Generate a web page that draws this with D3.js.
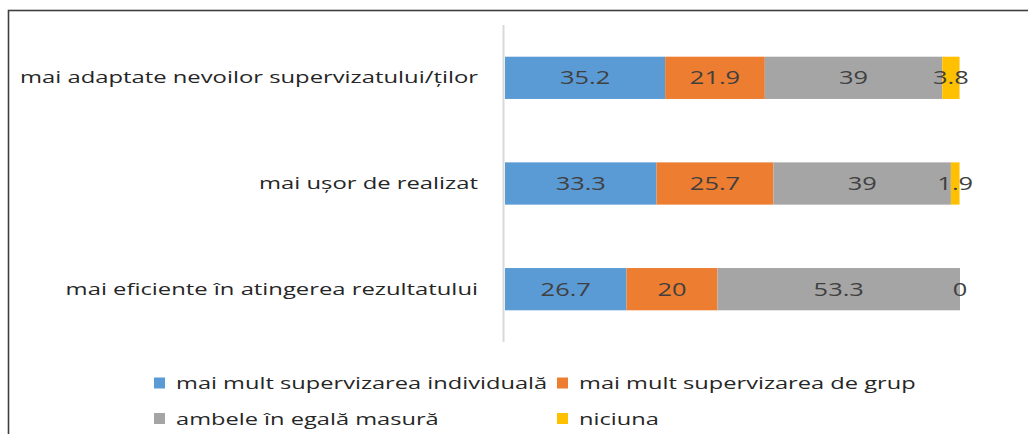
<!DOCTYPE html>
<html>
<head>
<meta charset="utf-8">
<script src="https://cdn.jsdelivr.net/npm/d3@7"></script>
<style>
  body { margin: 0; background: #fff; }
  text { font-family: "Open Sans", sans-serif; }
</style>
</head>
<body>
<script>
// categories (top to bottom)
const categories = [
  'mai adaptate nevoilor supervizatului/ților',
  'mai ușor de realizat',
  'mai eficiente în atingerea rezultatului'
]
const seriesNames = [
  'mai mult supervizarea individuală',
  'mai mult supervizarea de grup',
  'ambele în egală masură',
  'niciuna'
]
const individuala = [35.2, 33.3, 26.7]
const grup = [21.9, 25.7, 20]
const ambele = [39, 39, 53.3]
const niciuna = [3.8, 1.9, 0]
const colors = ['#5B9BD5', '#ED7D31', '#A5A5A5', '#FFC000']

const fullWidth = 1028
const fullHeight = 434
const plot = { left: 505, right: 960, top: 25, bottom: 342 }
const textColor = '#404040'

// stretch factors: the source picture is widened horizontally
const labelStretch = 1.4
const valueStretch = 1.41
const legendStretch = 1.39

const rows = categories.map((c, i) => ({
  cat: c,
  s0: individuala[i],
  s1: grup[i],
  s2: ambele[i],
  s3: niciuna[i]
}))
const keys = ['s0', 's1', 's2', 's3']
const stacked = d3.stack().keys(keys)(rows)

const svg = d3.select('body')
  .append('svg')
  .attr('width', fullWidth)
  .attr('height', fullHeight)

// chart frame
svg.append('rect')
  .attr('x', 8.5)
  .attr('y', 10.5)
  .attr('width', fullWidth + 20)
  .attr('height', fullHeight + 20)
  .attr('fill', 'none')
  .attr('stroke', '#3f3f3f')
  .attr('stroke-width', 1.6)

const x = d3.scaleLinear()
  .domain([0, 100])
  .range([plot.left, plot.right])

const y = d3.scaleBand()
  .domain(categories)
  .range([plot.top, plot.bottom])
  .paddingInner(0.6)
  .paddingOuter(0.3)

function stretch(sel, k) {
  sel.each(function () {
    const len = this.getComputedTextLength()
    d3.select(this)
      .attr('textLength', len * k)
      .attr('lengthAdjust', 'spacingAndGlyphs')
  })
}

// ---------------Bars---------------
const layer = svg.append('g')
  .selectAll('g')
  .data(stacked)
  .enter().append('g')
  .attr('fill', (d, i) => colors[i])

layer.selectAll('rect')
  .data(d => d)
  .enter().append('rect')
  .attr('x', d => x(d[0]))
  .attr('y', d => y(d.data.cat))
  .attr('width', d => x(d[1]) - x(d[0]))
  .attr('height', y.bandwidth())

// ---------------Axis line---------------
svg.append('line')
  .attr('x1', plot.left - 1.5)
  .attr('x2', plot.left - 1.5)
  .attr('y1', plot.top)
  .attr('y2', plot.bottom)
  .attr('stroke', '#d9d9d9')
  .attr('stroke-width', 2)

// ---------------Value labels---------------
const values = svg.append('g')
  .attr('fill', textColor)
  .attr('font-size', 18)
  .attr('text-anchor', 'middle')

stacked.forEach(s => {
  values.selectAll(null)
    .data(s)
    .enter().append('text')
    .attr('x', d => x((d[0] + d[1]) / 2))
    .attr('y', d => y(d.data.cat) + y.bandwidth() / 2 + 6.5)
    .text(d => d[1] - d[0] === 0 ? '0' : String(+(d[1] - d[0]).toFixed(1)))
    .call(stretch, valueStretch)
})

// ---------------Category labels---------------
svg.append('g')
  .selectAll('text')
  .data(categories)
  .enter().append('text')
  .attr('x', plot.left - 27)
  .attr('y', d => y(d) + y.bandwidth() / 2 + 5.5)
  .attr('text-anchor', 'end')
  .attr('font-size', 17)
  .attr('fill', '#262626')
  .text(d => d)
  .call(stretch, labelStretch)

// ---------------Legend---------------
const legendCols = [154, 557]
const legendRows = [383, 418.5]

const legend = svg.append('g')
  .selectAll('g')
  .data(seriesNames)
  .enter().append('g')
  .attr('transform', (d, i) => `translate(${legendCols[i % 2]},${legendRows[Math.floor(i / 2)]})`)

legend.append('rect')
  .attr('x', 0)
  .attr('y', -5.5)
  .attr('width', 11)
  .attr('height', 11)
  .attr('fill', (d, i) => colors[i])

legend.append('text')
  .attr('x', 22)
  .attr('y', 6)
  .attr('font-size', 17)
  .attr('fill', '#262626')
  .text(d => d)
  .call(stretch, legendStretch)
</script>
</body>
</html>
